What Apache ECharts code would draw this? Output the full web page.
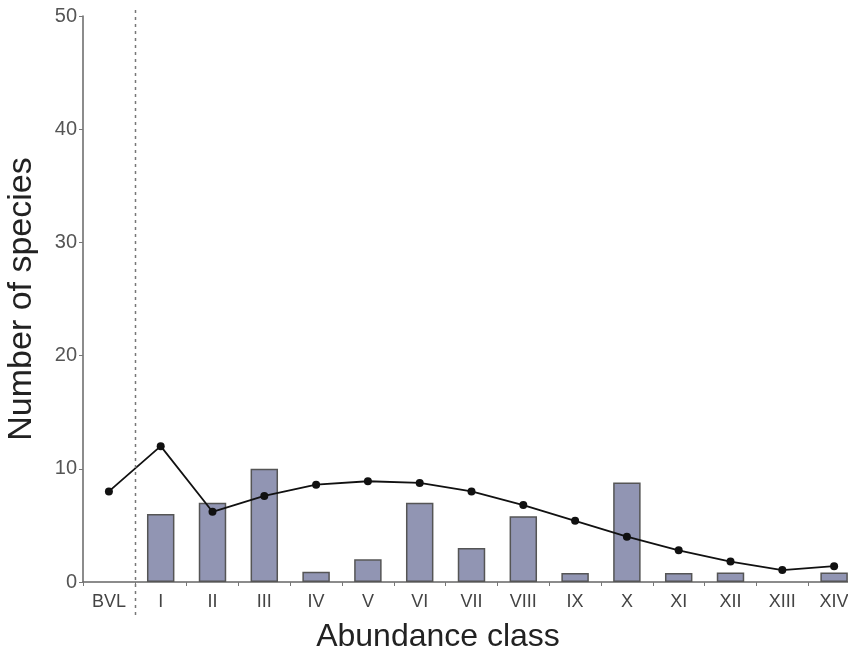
<!DOCTYPE html>
<html>
<head>
<meta charset="utf-8">
<script src="https://cdn.jsdelivr.net/npm/echarts@6/dist/echarts.min.js"></script>
<style>
  html, body { margin: 0; padding: 0; background: #fff; }
  #chart { width: 848px; height: 657px; }
</style>
</head>
<body>
<div id="chart"></div>
<script>
// 丰度等级
var categories = ['BVL', 'I', 'II', 'III', 'IV', 'V', 'VI', 'VII', 'VIII', 'IX', 'X', 'XI', 'XII', 'XIII', 'XIV'];
// 柱状数据 (BVL 和 XIII 没有柱)
var barValues = [null, 6, 7, 10, 0.9, 2, 7, 3, 5.8, 0.8, 8.8, 0.8, 0.85, null, 0.85];
// 折线数据
var lineValues = [8, 12, 6.2, 7.6, 8.6, 8.9, 8.75, 8, 6.8, 5.4, 4, 2.8, 1.8, 1.05, 1.4];
var yTicks = [0, 10, 20, 30, 40, 50];

var font = '"Liberation Sans", Arial, sans-serif';
var myChart = echarts.init(document.getElementById('chart'));

var option = {
  animation: false,
  grid: { left: 83, top: 16, width: 777, height: 566, outerBoundsMode: 'none', containLabel: false },
  xAxis: {
    type: 'category',
    data: categories,
    boundaryGap: true,
    name: 'Abundance class',
    nameLocation: 'middle',
    nameGap: 39,
    nameTextStyle: { fontFamily: font, fontSize: 32, color: '#222', padding: [0, 0, 0, -67] },
    axisLine: { lineStyle: { color: '#666', width: 1.5 } },
    axisTick: { show: true, length: 4, lineStyle: { color: '#777' } },
    axisLabel: { fontFamily: font, fontSize: 18, color: '#444', margin: 11 }
  },
  yAxis: {
    type: 'value',
    min: yTicks[0],
    max: yTicks[yTicks.length - 1],
    interval: 10,
    name: 'Number of species',
    nameLocation: 'middle',
    nameGap: 44,
    nameRotate: 90,
    nameTextStyle: { fontFamily: font, fontSize: 34, color: '#222' },
    splitLine: { show: false },
    axisLine: { show: true, lineStyle: { color: '#666', width: 1.5 } },
    axisTick: { show: true, length: 4, lineStyle: { color: '#777' } },
    axisLabel: { fontFamily: font, fontSize: 20, color: '#555', margin: 6 }
  },
  series: [
    {
      type: 'bar',
      data: barValues,
      barWidth: '53%',
      itemStyle: { color: '#9195b3', borderColor: '#555', borderWidth: 1.5 }
    },
    {
      type: 'line',
      data: lineValues,
      symbol: 'circle',
      symbolSize: 8,
      lineStyle: { color: '#111', width: 1.8 },
      itemStyle: { color: '#111' },
      z: 3
    }
  ]
};
myChart.setOption(option);

// BVL 与 I 之间的虚线分隔
var c0 = myChart.convertToPixel({ xAxisIndex: 0 }, 'BVL');
var c1 = myChart.convertToPixel({ xAxisIndex: 0 }, 'I');
var sepX = Math.round((c0 + c1) / 2) + 0.5;
myChart.setOption({
  graphic: [{
    type: 'line',
    shape: { x1: sepX, y1: 10, x2: sepX, y2: 618 },
    style: { stroke: '#777', lineWidth: 1.5, lineDash: [3, 4] },
    z: 10
  }]
});
</script>
</body>
</html>
